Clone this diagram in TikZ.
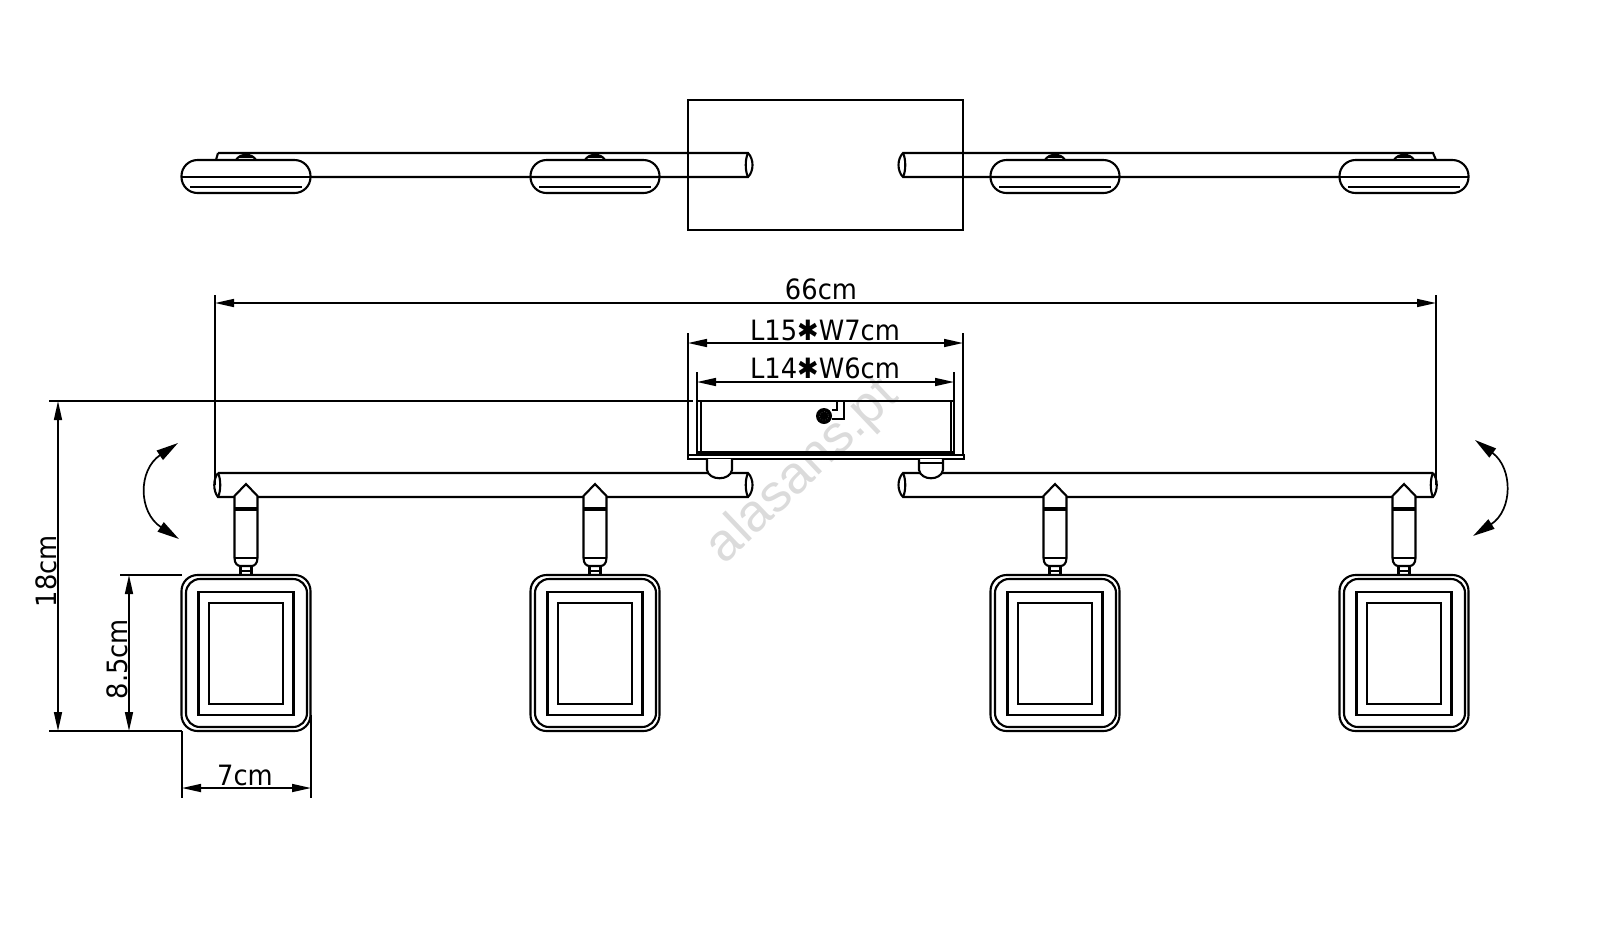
\documentclass[tikz,border=0pt]{standalone}
\usepackage{fontspec}
\setmainfont[FakeStretch=0.92]{DejaVu Sans}
\newfontfamily\markfont{Liberation Sans}
\usetikzlibrary{
  arrows.meta
}

\begin{document}
\begin{tikzpicture}[
    x=0.5pt, y=-0.5pt,
    line width=1.05pt,
  dim/.style = {line width=0.8pt, {Triangle[length=9.5pt,width=4pt]}-{Triangle[length=9.5pt,width=4pt]}},
  swing/.style = {line width=0.85pt, {Triangle[length=11pt,width=5.5pt]}-{Triangle[length=11pt,width=5.5pt]}},
  extline/.style = {line width=0.8pt},
  dimlabel/.style = {font=\fontsize{14}{14}\selectfont, inner sep=0pt}]
  \useasboundingbox (0,0) rectangle (1600,933);

  % watermark
  \node[text=black!14, rotate=43.5, font=\markfont\fontsize{26.5}{26.5}\selectfont] (mark) at (803,472) {alasans.pt};

  % top view
  \draw (688,100) rectangle (963,230);
  \draw (218,153) -- (748,153) .. controls (754,159) and (754,171) .. (748,177) -- (311,177);
  \draw (748,153) .. controls (745,159) and (745,171) .. (748,177);
  \draw (1436,160) -- (1433,153) -- (903,153) .. controls (897,159) and (897,171) .. (903,177) -- (1340,177);
  \draw (903,153) .. controls (906,159) and (906,171) .. (903,177);
  \draw (216,160) -- (218,153);
  \foreach \cx in {246,595,1055,1404} {
    \begin{scope}[shift={(\cx,0)}]
      \draw[rounded corners=8pt] (-64.5,160) rectangle (64.5,193);
      \draw (-64.5,177) -- (64.5,177);
      \draw (-56,187) -- (56,187);
      \draw (-10,160) .. controls (-6,153) and (6,153) .. (10,160);
      \draw (-7,157) -- (7,157);
    \end{scope}
  }

  % dimensions
  \coordinate (railL) at (215,485);
  \coordinate (railR) at (1436,485);
  \draw[extline] (railL) -- (215,295);
  \draw[extline] (railR) -- (1436,295);
  \draw[dim] (215,303) -- (1436,303);
  \node[dimlabel] (width) at (821,289) {66cm};
  \draw[extline] (688,333) -- (688,455);
  \draw[extline] (963,333) -- (963,455);
  \draw[dim] (688,343) -- (963,343);
  \node[dimlabel] (plate) at (825,330) {L15✱W7cm};
  \draw[extline] (697,372) -- (697,401);
  \draw[extline] (954,372) -- (954,401);
  \draw[dim] (697,382) -- (954,382);
  \node[dimlabel] (box) at (825,368) {L14✱W6cm};
  \draw[extline] (49,401) -- (693,401);
  \draw[extline] (49,731) -- (182,731);
  \draw[extline] (120,575) -- (182,575);
  \draw[dim] (58,401) -- (58,731);
  \node[dimlabel, rotate=90] (height) at (46,571) {18cm};
  \draw[dim] (129,575) -- (129,731);
  \node[dimlabel, rotate=90] (lamph) at (117,659) {8.5cm};
  \draw[extline] (182,731) -- (182,798);
  \draw[extline] (311,715) -- (311,798);
  \draw[dim] (182,788) -- (311,788);
  \node[dimlabel] (lampw) at (245,775) {7cm};

  % swing arrows
  \draw[swing] (178,443) .. controls (138,470) and (138,512) .. (179,539);
  \draw[swing] (1475,440) .. controls (1513,468) and (1513,510) .. (1473,536);

  % ceiling box
  \draw (697,401) -- (954,401);
  \draw (697,401) -- (697,453) -- (954,453) -- (954,401);
  \draw (701,401) -- (701,453);
  \draw (951,401) -- (951,453);
  \draw[line width=1.2pt] (697,452) -- (954,452);
  \draw[fill=white] (688,455) rectangle (964,459);
  \fill (824,416) circle[radius=8];
  \draw[black!60, line width=0.3pt, densely dotted] (824,416) circle[radius=4.5];
  \draw (837,401) -- (837,410) -- (832,410);
  \draw (844,401) -- (844,419) -- (832,419);

  % front rails
  \draw (218,473) -- (748,473) .. controls (754,479) and (754,491) .. (748,497) -- (218,497)
    .. controls (213,491) and (213,479) .. (218,473);
  \draw (748,473) .. controls (745,479) and (745,491) .. (748,497);
  \draw (218,473) .. controls (221,479) and (221,491) .. (218,497);
  \draw (1433,473) -- (903,473) .. controls (897,479) and (897,491) .. (903,497) -- (1433,497)
    .. controls (1438,491) and (1438,479) .. (1433,473);
  \draw (903,473) .. controls (906,479) and (906,491) .. (903,497);
  \draw (1433,473) .. controls (1430,479) and (1430,491) .. (1433,497);
  \draw[fill=white] (707,459) -- (707,470) .. controls (709,481) and (730,481) .. (732,470) -- (732,459);
  \draw[fill=white] (919,459) -- (919,470) .. controls (921,481) and (941,481) .. (943,470) -- (943,459);
  \draw (919,463) -- (943,463);

  % front lamps
  \foreach \cx in {246,595,1055,1404} {
    \begin{scope}[shift={(\cx,0)}]
      \draw[fill=white] (-5.5,564) rectangle (5.5,575);
      \draw (-5.5,571) -- (5.5,571);
      \draw[fill=white] (0,484) -- (-11.5,496) -- (-11.5,558) .. controls (-11.5,564) and (-8,566) .. (-5.5,566)
        -- (5.5,566) .. controls (8,566) and (11.5,564) .. (11.5,558) -- (11.5,496) -- cycle;
      \draw[line width=1.6pt] (-11.5,509) -- (11.5,509);
      \draw (-11.5,558) -- (11.5,558);
      \draw[fill=white, rounded corners=8pt] (-64.5,575) rectangle (64.5,731);
      \draw[rounded corners=7pt] (-60,579) rectangle (61,727);
      \draw (-47.5,592) rectangle (47.5,715);
      \draw (-37,603) rectangle (37,704);
    \end{scope}
  }
\end{tikzpicture}
\end{document}
